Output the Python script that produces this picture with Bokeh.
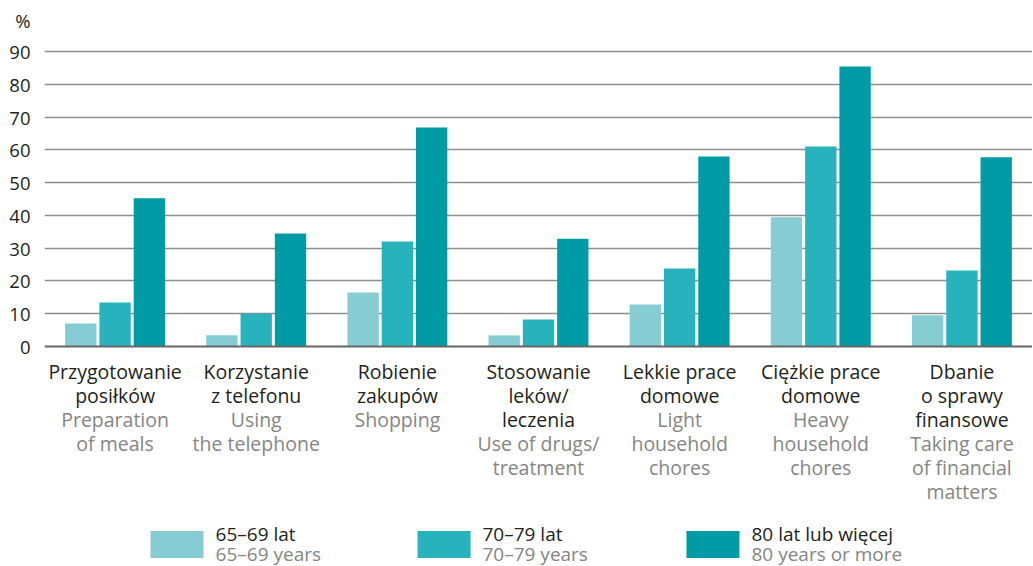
from bokeh.plotting import figure
from bokeh.models import FactorRange, FixedTicker, Span, ColumnDataSource
from bokeh.transform import dodge
from bokeh.core.properties import value
from bokeh.embed import file_html
from bokeh.resources import INLINE

# ---- data ----
categories = ["Przygotowanie posiłków", "Korzystanie z telefonu", "Robienie zakupów",
              "Stosowanie leków/leczenia", "Lekkie prace domowe", "Ciężkie prace domowe",
              "Dbanie o sprawy finansowe"]
labels_pl = ["Przygotowanie\nposiłków", "Korzystanie\nz telefonu", "Robienie\nzakupów",
             "Stosowanie\nleków/\nleczenia", "Lekkie prace\ndomowe", "Ciężkie prace\ndomowe",
             "Dbanie\no sprawy\nfinansowe"]
labels_en = ["Preparation\nof meals", "Using\nthe telephone", "Shopping",
             "Use of drugs/\ntreatment", "Light\nhousehold\nchores", "Heavy\nhousehold\nchores",
             "Taking care\nof financial\nmatters"]
series_pl = ["65–69 lat", "70–79 lat", "80 lat lub więcej"]
series_en = ["65–69 years", "70–79 years", "80 years or more"]
age_65_69 = [7.0, 3.4, 16.5, 3.4, 12.8, 39.4, 9.5]
age_70_79 = [13.4, 10.0, 32.0, 8.2, 23.8, 61.0, 23.2]
age_80_plus = [45.2, 34.5, 66.8, 32.9, 58.0, 85.4, 57.7]
y_ticks = [0, 10, 20, 30, 40, 50, 60, 70, 80, 90]

colors = ["#86cdd3", "#27b2bc", "#019ba6"]
FONT = "Open Sans"
TXT = "#231f20"
GRAY = "#858585"
FS = 19.5

# ---- layout constants ----
W, H = 1032, 566
LEFT = 44
zero_px, top90_px = 346, 51
ppu = (zero_px - top90_px) / 90.0
y_end = 90 + top90_px / ppu
y_start = -(H - zero_px) / ppu
line_px = 24

def ydata(px):
    return -(px - zero_px) / ppu

src = ColumnDataSource(dict(cat=categories, a=age_65_69, b=age_70_79, c=age_80_plus))

p = figure(width=W, height=H, x_range=FactorRange(*categories), y_range=(y_start, y_end),
           output_backend="svg", toolbar_location=None, min_border=0, min_border_left=LEFT)
p.outline_line_color = None
p.background_fill_color = "white"
p.border_fill_color = "white"

off = 0.243
bw = 0.222
for fld, dx, col in zip(["a", "b", "c"], [-off, 0, off], colors):
    p.vbar(x=dodge("cat", dx, range=p.x_range), top=fld, width=bw, bottom=0,
           source=src, fill_color=col, line_color=None)

# grid
p.xgrid.visible = False
p.ygrid.ticker = FixedTicker(ticks=y_ticks[1:])
p.ygrid.grid_line_color = "#8e8e8e"
p.ygrid.grid_line_width = 1.3
p.add_layout(Span(location=0, dimension="width", line_color="#666666", line_width=1.8))

# axes
p.xaxis.visible = False
pct_pos = ydata(20)
p.yaxis.ticker = FixedTicker(ticks=y_ticks + [pct_pos])
p.yaxis.major_label_overrides = {pct_pos: "%"}
p.yaxis.axis_line_color = None
p.yaxis.major_tick_line_color = None
p.yaxis.minor_tick_line_color = None
p.yaxis.major_label_standoff = 8
p.yaxis.major_label_text_font = FONT
p.yaxis.major_label_text_font_size = "18.5px"
p.yaxis.major_label_text_color = TXT

# category labels
y_pl = ydata(357)
n_pl = [len(s.split("\n")) for s in labels_pl]
y_en = [y_pl - n * line_px / ppu for n in n_pl]
lab = ColumnDataSource(dict(cat=categories, pl=labels_pl, en=labels_en, yen=y_en,
                            ypl=[y_pl] * len(categories)))
common = dict(text_font=value(FONT), text_font_size=f"{FS}px", text_align="center",
              text_baseline="top", text_line_height=0.90)
p.text(x="cat", y="ypl", text="pl", source=lab, text_color=TXT, **common)
p.text(x="cat", y="yen", text="en", source=lab, text_color=GRAY, **common)

# legend (drawn manually: swatch + two-line label)
leg_sw_x = [0.939, 2.831, 4.736]
leg_tx_x = [1.212, 3.103, 5.009]
p.rect(x=leg_sw_x, y=[ydata(544)] * 3, width=53, height=27, width_units="screen",
       height_units="screen", fill_color=colors, line_color=None)
p.text(x=leg_tx_x, y=[ydata(533)] * 3, text=series_pl, text_color=TXT,
       text_font=value(FONT), text_font_size="19px", text_baseline="middle")
p.text(x=leg_tx_x, y=[ydata(553)] * 3, text=series_en, text_color=GRAY,
       text_font=value(FONT), text_font_size="19px", text_baseline="middle")

open("out.html", "w").write(file_html(p, INLINE))
